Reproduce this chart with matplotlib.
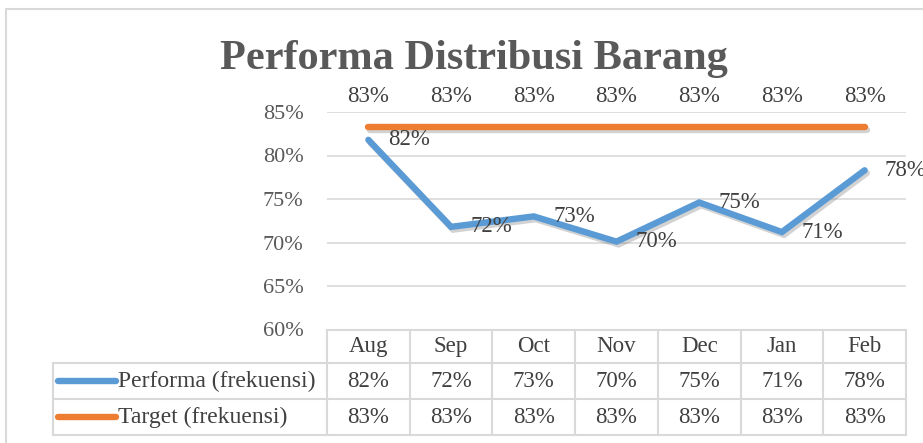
import matplotlib
matplotlib.use("Agg")
import matplotlib.pyplot as plt
import matplotlib.patheffects as pe
from matplotlib.patches import Rectangle
from matplotlib.ticker import PercentFormatter

# chart data
months = ['Aug', 'Sep', 'Oct', 'Nov', 'Dec', 'Jan', 'Feb']
performa = [0.818, 0.718, 0.730, 0.701, 0.746, 0.712, 0.783]
target = [0.833, 0.833, 0.833, 0.833, 0.833, 0.833, 0.833]
series_names = ['Performa (frekuensi)', 'Target (frekuensi)']
colors = ['#5B9BD5', '#ED7D31']

plt.rcParams['font.family'] = ['Liberation Serif', 'DejaVu Serif']

W, H = 923, 443
fig = plt.figure(figsize=(W / 100, H / 100), dpi=100)
fig.patch.set_facecolor('white')

# outer chart border (cut off at right and bottom like the reference)
fig.add_artist(Rectangle((6 / W, -0.2), 1.2, 1.2 - 9 / H, transform=fig.transFigure,
                         fill=False, edgecolor='#D9D9D9', lw=1.5))

ax = fig.add_axes([327 / W, (H - 329.5) / H, (906 - 327) / W, (329.5 - 112) / H])
ax.set_xlim(-0.5, len(months) - 0.5)
ax.set_ylim(0.60, 0.85)
ax.set_yticks([0.60, 0.65, 0.70, 0.75, 0.80, 0.85])
ax.yaxis.set_major_formatter(PercentFormatter(1.0, decimals=0))
ax.set_xticks([])
ax.tick_params(axis='y', length=0, pad=17, labelsize=16, labelcolor='#595959')
ax.grid(axis='y', color='#D9D9D9', lw=1.2)
ax.set_axisbelow(True)
for s in ax.spines.values():
    s.set_visible(False)

x = range(len(months))
shadow = [pe.SimpleLineShadow(offset=(1.5, -2), shadow_color='#808080', alpha=0.35), pe.Normal()]
ax.plot(x, performa, color=colors[0], lw=4.6, solid_capstyle='round', solid_joinstyle='miter',
        path_effects=shadow, zorder=3)
ax.plot(x, target, color=colors[1], lw=4.6, solid_capstyle='round', path_effects=shadow, zorder=3)

label_color = '#404040'
for i, v in enumerate(performa):
    ax.annotate(f'{v * 100:.0f}%', (i, v), xytext=(14, 0), textcoords='offset points',
                ha='left', va='center', fontsize=16.5, color=label_color, annotation_clip=False)
for i, v in enumerate(target):
    ax.annotate(f'{v * 100:.0f}%', (i, v), xytext=(0, 22), textcoords='offset points',
                ha='center', va='center', fontsize=16.5, color=label_color, annotation_clip=False)

# data table under the axis
grid_c = '#D9D9D9'
px = 329.5 - 112  # axes height in pixels
rows = [0.0, -(363.3 - 329.5) / px, -(399.3 - 329.5) / px, -(435 - 329.5) / px]
left = (53 - 327) / (906 - 327)
n = len(months)
tr = ax.transAxes
kw = dict(transform=tr, color=grid_c, lw=1.5, clip_on=False)
ax.plot([0, 1], [rows[0]] * 2, **kw)
for r in rows[1:]:
    ax.plot([left, 1], [r, r], **kw)
for k in range(n + 1):
    ax.plot([k / n, k / n], [rows[0], rows[3]], **kw)
ax.plot([left, left], [rows[1], rows[3]], **kw)

mid = [(rows[i] + rows[i + 1]) / 2 for i in range(3)]
for i, m in enumerate(months):
    ax.text((i + 0.5) / n, mid[0], m, transform=tr, ha='center', va='center',
            fontsize=16.5, color=label_color)
for row, vals in zip(mid[1:], [performa, target]):
    for i, v in enumerate(vals):
        ax.text((i + 0.5) / n, row, f'{v * 100:.0f}%', transform=tr, ha='center', va='center',
                fontsize=16.5, color=label_color)

key0, key1 = (58 - 327) / 579, (116 - 327) / 579
for row, name, c in zip(mid[1:], series_names, colors):
    ax.plot([key0, key1], [row, row], transform=tr, color=c, lw=4.6,
            solid_capstyle='round', clip_on=False)
    ax.text((118 - 327) / 579, row, name, transform=tr, ha='left', va='center',
            fontsize=17, color=label_color)

fig.text(474 / W, 1 - 59 / H, 'Performa Distribusi Barang', ha='center', va='center',
         fontsize=30.5, fontweight='bold', color='#595959')

fig.savefig('out.png', dpi=100)
